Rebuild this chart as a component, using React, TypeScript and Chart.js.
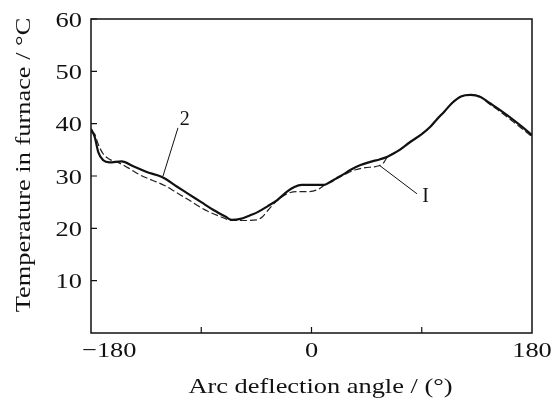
import React, { useEffect, useRef } from "react";
import { Chart, registerables } from "chart.js";

Chart.register(...registerables);

// Curve 2 (thick)
const angles2 = [-180, -177, -174, -170, -165, -155, -145, -135, -122, -110, -100, -90, -80, -70, -65, -58, -50, -44, -36, -28, -20, -14, -8, 0, 10, 15, 20, 26, 32, 40, 48, 56, 62, 72, 80, 90, 97, 103, 108, 115, 122, 130, 138, 145, 154, 165, 172, 180];
const temps2 = [39, 37.5, 34.5, 33, 32.6, 32.8, 31.8, 30.8, 29.8, 28, 26.5, 25, 23.5, 22.2, 21.6, 21.8, 22.5, 23.1, 24.2, 25.4, 27, 27.9, 28.3, 28.3, 28.3, 28.8, 29.5, 30.3, 31.2, 32.1, 32.7, 33.2, 33.7, 35, 36.4, 38, 39.4, 41, 42.2, 44, 45.2, 45.5, 45.1, 44, 42.6, 40.7, 39.4, 37.8];

// Curve 1 (thin)
const angles1 = [-180, -177, -174, -170, -165, -158, -150, -140, -130, -120, -110, -100, -92, -85, -75, -65, -55, -45, -40, -35, -28, -20, -12, -4, 5, 12, 20, 28, 36, 44, 52, 58, 62, 72, 80, 90, 97, 103, 108, 115, 122, 130, 138, 145, 154, 165, 172, 180];
const temps1 = [38.5, 38, 36, 34.2, 33.2, 32.6, 31.6, 30.2, 29.2, 28.2, 26.8, 25.4, 24.2, 23.3, 22.3, 21.5, 21.5, 21.6, 22.2, 23.6, 25.3, 26.6, 27, 27, 27.4, 28.5, 29.4, 30.4, 31.2, 31.6, 31.8, 32.3, 33.6, 35, 36.4, 38, 39.4, 41, 42.2, 44, 45.2, 45.5, 45.1, 43.8, 42.3, 40.3, 39, 37.5];

const xTickLabels = [-180, 0, 180];
const xMinorTicks = [-90, 0, 90];
const yTickValues = [10, 20, 30, 40, 50, 60];
const xTitle = "Arc deflection angle / (\u00b0)";
const yTitle = "Temperature in furnace / \u00b0C";

// annotation labels (data coordinates)
const label2 = { text: "2", x: -103.5, y: 40.8, fromX: -109, fromY: 39.2, toX: -121.2, toY: 30 };
const label1 = { text: "I", x: 93.2, y: 26, fromX: 55.1, fromY: 32.1, toX: 86.1, toY: 26.6 };

const FONT = "'Liberation Serif', 'Times New Roman', serif";
const SX = 1.2;

function drawText(ctx: CanvasRenderingContext2D, text: string, x: number, y: number, align: CanvasTextAlign, rot = 0) {
  ctx.save();
  ctx.translate(x, y);
  if (rot) ctx.rotate(rot);
  ctx.scale(SX, 1);
  ctx.textAlign = align;
  ctx.fillText(text, 0, 0);
  ctx.restore();
}

export default function App() {
  const ref = useRef<HTMLCanvasElement | null>(null);
  useEffect(() => {
    const canvas = ref.current;
    if (!canvas) return;
    const framePlugin = {
      id: "framePlugin",
      afterDraw(chart: any) {
        const ctx = chart.ctx as CanvasRenderingContext2D;
        const xs = chart.scales.x;
        const ys = chart.scales.y;
        const { left, right, top, bottom } = chart.chartArea;
        ctx.save();
        ctx.strokeStyle = "#111";
        ctx.lineWidth = 1.5;
        ctx.strokeRect(left, top, right - left, bottom - top);
        ctx.lineWidth = 1.2;
        ctx.beginPath();
        for (const v of yTickValues) {
          const py = ys.getPixelForValue(v);
          ctx.moveTo(left, py);
          ctx.lineTo(left + 6, py);
        }
        for (const v of xMinorTicks) {
          const px = xs.getPixelForValue(v);
          ctx.moveTo(px, bottom);
          ctx.lineTo(px, bottom - 6);
        }
        ctx.stroke();

        // tick labels
        ctx.fillStyle = "#111";
        ctx.font = `22px ${FONT}`;
        ctx.textBaseline = "middle";
        for (const v of yTickValues) {
          drawText(ctx, String(v), left - 9, ys.getPixelForValue(v) + 2, "right");
        }
        for (const v of xTickLabels) {
          const txt = v < 0 ? "\u2212" + Math.abs(v) : String(v);
          const px = xs.getPixelForValue(v);
          if (v === xTickLabels[0]) drawText(ctx, txt, px - 9, bottom + 18, "left");
          else drawText(ctx, txt, px, bottom + 18, "center");
        }
        // axis titles
        drawText(ctx, xTitle, (left + right) / 2 + 9, 387, "center");
        drawText(ctx, yTitle, 24, (top + bottom) / 2 - 11, "center", -Math.PI / 2);

        // annotations
        ctx.lineWidth = 1;
        ctx.font = `20px ${FONT}`;
        ctx.textAlign = "center";
        for (const l of [label2, label1]) {
          ctx.beginPath();
          ctx.moveTo(xs.getPixelForValue(l.fromX), ys.getPixelForValue(l.fromY));
          ctx.lineTo(xs.getPixelForValue(l.toX), ys.getPixelForValue(l.toY));
          ctx.stroke();
          ctx.fillText(l.text, xs.getPixelForValue(l.x), ys.getPixelForValue(l.y));
        }
        ctx.restore();
      },
    };
    const chart = new Chart(canvas, {
      type: "line",
      data: {
        datasets: [
          {
            label: "2",
            data: angles2.map((a, i) => ({ x: a, y: temps2[i] })),
            borderColor: "#111",
            borderWidth: 2.2,
            pointRadius: 0,
            cubicInterpolationMode: "monotone",
            fill: false,
          },
          {
            label: "1",
            data: angles1.map((a, i) => ({ x: a, y: temps1[i] })),
            borderColor: "#222",
            borderWidth: 1.2,
            borderDash: [7, 3],
            pointRadius: 0,
            cubicInterpolationMode: "monotone",
            fill: false,
          },
        ],
      },
      options: {
        animation: false,
        responsive: true,
        maintainAspectRatio: false,
        layout: { padding: { top: 19, right: 22, left: 0, bottom: 0 } },
        plugins: { legend: { display: false }, tooltip: { enabled: false } },
        scales: {
          x: {
            type: "linear",
            min: -180,
            max: 180,
            grid: { display: false, drawTicks: false },
            border: { display: false },
            ticks: { display: false },
            afterFit(scale: any) {
              scale.height = 67;
            },
          },
          y: {
            type: "linear",
            min: 0,
            max: 60,
            grid: { display: false, drawTicks: false },
            border: { display: false },
            ticks: { display: false },
            afterFit(scale: any) {
              scale.width = 91;
            },
          },
        },
      },
      plugins: [framePlugin],
    } as any);
    return () => chart.destroy();
  }, []);
  return (
    <div style={{ position: "absolute", left: 0, top: 0, width: 554, height: 400, background: "#fff" }}>
      <canvas ref={ref} />
    </div>
  );
}
